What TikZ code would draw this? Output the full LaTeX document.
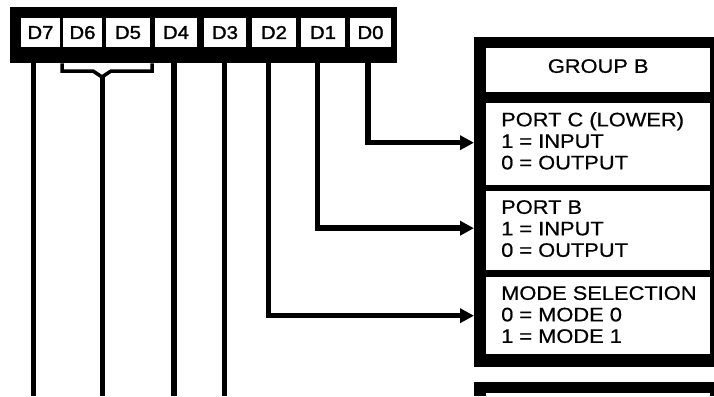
\documentclass[tikz,border=0pt]{standalone}
\usepackage{fontspec}
\setmainfont{Liberation Sans}
\newfontfamily\labfont[FakeStretch=1.12,FakeBold=0.6]{Liberation Sans}
\newfontfamily\regfont[FakeStretch=1.1,FakeBold=1.6]{Liberation Sans}
\usetikzlibrary{arrows.meta}
\begin{document}
\begin{tikzpicture}[x=1pt,y=-1pt,
  blk/.style={fill=black, draw=none, inner sep=0pt, anchor=north west},
  wcell/.style={fill=white, draw=none, inner sep=0pt, anchor=north west},
  regcell/.style={fill=white, draw=none, inner sep=0pt, text depth=0pt, minimum height=29pt,
    font=\regfont\fontsize{18.5}{18.5}\selectfont},
  lab/.style={inner sep=0pt, align=left, font=\labfont\fontsize{19.5}{21.5}\selectfont},
  wire/.style={line width=5pt, line join=miter},
  bracew/.style={line width=3.5pt, line join=miter},
  arrowline/.style={line width=5.5pt, line join=miter, -{Triangle[length=14pt,width=14pt]}}
]
\useasboundingbox (0,0) rectangle (714,396);
% register
\node[blk, minimum width=387pt, minimum height=56pt] (reg) at (10,7) {};
\node[regcell, minimum width=39pt] (d7) at (40.5,32.5) {D7};
\node[regcell, minimum width=39pt] (d6) at (82.5,32.5) {D6};
\node[regcell, minimum width=44pt] (d5) at (128,32.5) {D5};
\node[regcell, minimum width=42pt] (d4) at (176,32.5) {D4};
\node[regcell, minimum width=42pt] (d3) at (225,32.5) {D3};
\node[regcell, minimum width=44pt] (d2) at (274,32.5) {D2};
\node[regcell, minimum width=44pt] (d1) at (323,32.5) {D1};
\node[regcell, minimum width=41pt] (d0) at (370.5,32.5) {D0};
% line x positions
\coordinate (x7) at (33.5,0);
\coordinate (x65) at (102,0);
\coordinate (x4) at (173.5,0);
\coordinate (x3) at (224,0);
\coordinate (x2) at (268.5,0);
\coordinate (x1) at (317.5,0);
\coordinate (x0) at (368,0);
\coordinate (bot) at (0,396);
\coordinate (bl) at (62,0);
\coordinate (br) at (152,0);
% right box
\node[blk, minimum width=240pt, minimum height=330pt] (rbox) at (474,37) {};
\node[wcell, minimum width=224pt, minimum height=44pt] (gb) at (486,48) {};
\node[wcell, minimum width=224pt, minimum height=82pt] (pc) at (486,103) {};
\node[wcell, minimum width=224pt, minimum height=79pt] (pb) at (486,191) {};
\node[wcell, minimum width=224pt, minimum height=77pt] (ms) at (486,277) {};
\node[blk, minimum width=240pt, minimum height=14pt] (lbox) at (474,382) {};
\node[wcell, minimum width=224pt, minimum height=3pt] (lcell) at (486,393) {};
% texts
\node[lab, anchor=north] (tgb) at (gb.north |- 0,59) {GROUP B};
\node[lab, anchor=north west] (tpc) at (501,112) {PORT C (LOWER)\\1 = INPUT\\0 = OUTPUT};
\node[lab, anchor=north west] (tpb) at (501,200) {PORT B\\1 = INPUT\\0 = OUTPUT};
\node[lab, anchor=north west] (tms) at (501,286) {MODE SELECTION\\0 = MODE 0\\1 = MODE 1};
% wires
\draw[wire] (x7 |- reg.south) -- (x7 |- bot);
\draw[wire] (x65 |- 0,76) -- (x65 |- bot);
\draw[wire, line width=6pt] (x4 |- reg.south) -- (x4 |- bot);
\draw[wire] (x3 |- reg.south) -- (x3 |- bot);
\draw[bracew] (bl |- reg.south) -- (bl |- 0,71) -- (93,71) -- (102,77) -- (111,71) -- (br |- 0,71) -- (br |- reg.south);
% arrows
\draw[arrowline] (x0 |- reg.south) |- ([yshift=1.5pt]pc.west -| rbox.west);
\draw[arrowline] (x1 |- reg.south) |- ([yshift=2.5pt]pb.west -| rbox.west);
\draw[arrowline] (x2 |- reg.south) |- (ms.west -| rbox.west);
\end{tikzpicture}
\end{document}
